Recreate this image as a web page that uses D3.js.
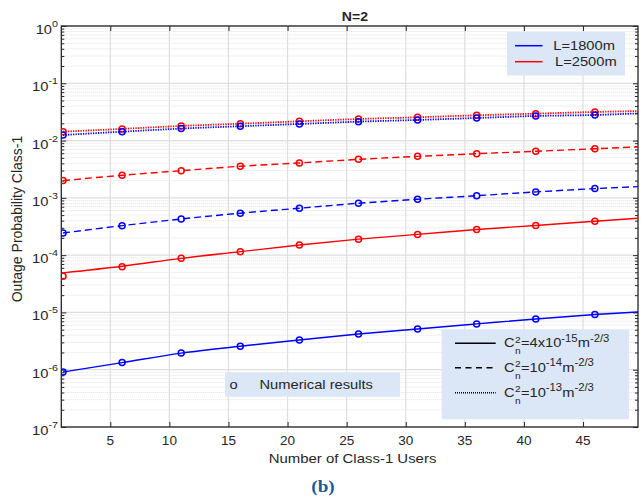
<!DOCTYPE html>
<html>
<head>
<meta charset="utf-8">
<script src="https://cdn.jsdelivr.net/npm/d3@7"></script>
<style>
  html, body { margin: 0; padding: 0; background: #ffffff; }
  svg { display: block; }
  text { font-family: "Liberation Sans", Arial, Helvetica, sans-serif; fill: #262626; }
</style>
</head>
<body>
<div id="chart"></div>
<script>
// ---------------- DATA ----------------
const xAnalytic  = [1, 6, 11, 16, 21, 26, 31, 36, 41, 46, 50];
const xNumerical = [1, 6, 11, 16, 21, 26, 31, 36, 41, 46];

// Analytical curves (lines)
const L1800_C4e15  = [9.1e-7, 1.33e-6, 1.95e-6, 2.57e-6, 3.3e-6, 4.2e-6, 5.15e-6, 6.3e-6, 7.7e-6, 9.2e-6, 1.03e-5];
const L2500_C4e15  = [4.9e-5, 6.4e-5, 8.8e-5, 1.15e-4, 1.5e-4, 1.9e-4, 2.3e-4, 2.8e-4, 3.3e-4, 3.9e-4, 4.45e-4];
const L1800_C1e14  = [2.44e-4, 3.27e-4, 4.28e-4, 5.4e-4, 6.6e-4, 8.05e-4, 9.45e-4, 1.09e-3, 1.27e-3, 1.45e-3, 1.58e-3];
const L2500_C1e14  = [2.0e-3, 2.48e-3, 2.98e-3, 3.56e-3, 4.07e-3, 4.7e-3, 5.3e-3, 5.9e-3, 6.5e-3, 7.2e-3, 7.8e-3];
const L1800_C1e13  = [1.25e-2, 1.43e-2, 1.62e-2, 1.78e-2, 1.95e-2, 2.14e-2, 2.29e-2, 2.48e-2, 2.69e-2, 2.8e-2, 3.0e-2];
const L2500_C1e13  = [1.43e-2, 1.6e-2, 1.8e-2, 1.97e-2, 2.17e-2, 2.38e-2, 2.55e-2, 2.76e-2, 2.95e-2, 3.16e-2, 3.29e-2];

// Numerical results (markers)
const num_L1800_C4e15 = [9.1e-7, 1.33e-6, 1.95e-6, 2.57e-6, 3.3e-6, 4.2e-6, 5.15e-6, 6.3e-6, 7.7e-6, 9.2e-6];
const num_L2500_C4e15 = [4.3e-5, 6.3e-5, 8.8e-5, 1.15e-4, 1.5e-4, 1.9e-4, 2.3e-4, 2.8e-4, 3.3e-4, 3.9e-4];
const num_L1800_C1e14 = [2.44e-4, 3.27e-4, 4.28e-4, 5.4e-4, 6.6e-4, 8.05e-4, 9.45e-4, 1.09e-3, 1.27e-3, 1.45e-3];
const num_L2500_C1e14 = [2.0e-3, 2.48e-3, 2.98e-3, 3.56e-3, 4.07e-3, 4.7e-3, 5.3e-3, 5.9e-3, 6.5e-3, 7.2e-3];
const num_L1800_C1e13 = [1.25e-2, 1.43e-2, 1.62e-2, 1.78e-2, 1.95e-2, 2.14e-2, 2.29e-2, 2.48e-2, 2.69e-2, 2.8e-2];
const num_L2500_C1e13 = [1.43e-2, 1.6e-2, 1.8e-2, 1.97e-2, 2.17e-2, 2.38e-2, 2.55e-2, 2.76e-2, 2.95e-2, 3.16e-2];

const xTicks = [5, 10, 15, 20, 25, 30, 35, 40, 45];
const yExponents = [0, -1, -2, -3, -4, -5, -6, -7];

const titleText = "N=2";
const xLabelText = "Number of Class-1 Users";
const yLabelText = "Outage Probability Class-1";
const captionText = "(b)";
const lLegend = ["L=1800m", "L=2500m"];
const markerLegend = "Numerical results";
// C_n^2 legend: [coefficient text, exponent]
const cLegendMain = ["=4x10", "=10", "=10"];
const cLegendExp = ["-15", "-14", "-13"];

// ---------------- LAYOUT ----------------
const W = 643, H = 496;
const plot = { left: 61.3, right: 638, top: 26, bottom: 427 };
const SX = 1.13; // horizontal text stretch of the reference
const BLUE = "#0000ff", RED = "#ff0000";
const DASH = "7,4", DOT = "1.3,1.2";

const svg = d3.select("#chart").append("svg").attr("width", W).attr("height", H);

const x = d3.scaleLinear().domain([0.855, 49.65]).range([plot.left, plot.right]);
const y = d3.scaleLog().domain([1e-7, 1]).range([plot.bottom, plot.top]);

const majorY = yExponents.map(e => Math.pow(10, e));
const minorY = [];
for (let e = -7; e < 0; e++) for (let m = 2; m <= 9; m++) minorY.push(m * Math.pow(10, e));

// helper for stretched text
function sText(parent, px, py, str, opts = {}) {
  const g = parent.append("g").attr("transform", `translate(${px},${py}) scale(${opts.sx || SX},1)`);
  const t = g.append("text")
    .attr("text-anchor", opts.anchor || "start")
    .style("font-size", (opts.size || 13) + "px")
    .style("font-weight", opts.weight || "normal")
    .text(str);
  if (opts.family) t.style("font-family", opts.family);
  if (opts.fill) t.style("fill", opts.fill);
  return t;
}

// ---------------- GRID ----------------
const grid = svg.append("g");
grid.selectAll(".minor").data(minorY).join("line")
  .attr("x1", plot.left).attr("x2", plot.right)
  .attr("y1", d => y(d)).attr("y2", d => y(d))
  .attr("stroke", "#d9d9d9").attr("stroke-width", 0.8).attr("stroke-dasharray", "1,1");
grid.selectAll(".majorY").data(majorY).join("line")
  .attr("x1", plot.left).attr("x2", plot.right)
  .attr("y1", d => y(d)).attr("y2", d => y(d))
  .attr("stroke", "#dedede").attr("stroke-width", 1.2);
grid.selectAll(".majorX").data(xTicks).join("line")
  .attr("x1", d => x(d)).attr("x2", d => x(d))
  .attr("y1", plot.top).attr("y2", plot.bottom)
  .attr("stroke", "#dedede").attr("stroke-width", 1.2);

// ---------------- AXES (inward ticks, box) ----------------
const axisColor = "#262626";
function styleAxis(g) {
  g.select(".domain").remove();
  g.selectAll("line").attr("stroke", axisColor).attr("stroke-width", 1);
  g.selectAll("text").remove();
}
svg.append("g").attr("transform", `translate(0,${plot.bottom})`)
  .call(d3.axisBottom(x).tickValues(xTicks).tickSize(-5)).call(styleAxis);
svg.append("g").attr("transform", `translate(0,${plot.top})`)
  .call(d3.axisTop(x).tickValues(xTicks).tickSize(-5)).call(styleAxis);
svg.append("g").attr("transform", `translate(${plot.left},0)`)
  .call(d3.axisLeft(y).tickValues(majorY).tickSize(-5)).call(styleAxis);
svg.append("g").attr("transform", `translate(${plot.right},0)`)
  .call(d3.axisRight(y).tickValues(majorY).tickSize(-5)).call(styleAxis);
svg.append("g").attr("transform", `translate(${plot.left},0)`)
  .call(d3.axisLeft(y).tickValues(minorY).tickSize(-3)).call(styleAxis);
svg.append("g").attr("transform", `translate(${plot.right},0)`)
  .call(d3.axisRight(y).tickValues(minorY).tickSize(-3)).call(styleAxis);

svg.append("rect")
  .attr("x", plot.left).attr("y", plot.top)
  .attr("width", plot.right - plot.left).attr("height", plot.bottom - plot.top)
  .attr("fill", "none").attr("stroke", axisColor).attr("stroke-width", 1.3);

// tick labels
xTicks.forEach(v => sText(svg, x(v), 445, String(v), { anchor: "middle", size: 12 }));
yExponents.forEach(e => {
  const t = sText(svg, 58, y(Math.pow(10, e)) + 8, "", { anchor: "end", size: 13 });
  t.append("tspan").text("10");
  t.append("tspan").attr("dy", -7).style("font-size", "9.5px").text(String(e));
});

// ---------------- SERIES ----------------
svg.append("clipPath").attr("id", "plotclip").append("rect")
  .attr("x", plot.left).attr("y", plot.top)
  .attr("width", plot.right - plot.left).attr("height", plot.bottom - plot.top);

const series = [
  { vals: L2500_C1e13, nums: num_L2500_C1e13, color: RED,  dash: DOT,  w: 1.8 },
  { vals: L1800_C1e13, nums: num_L1800_C1e13, color: BLUE, dash: DOT,  w: 1.8 },
  { vals: L2500_C1e14, nums: num_L2500_C1e14, color: RED,  dash: DASH, w: 1.4 },
  { vals: L1800_C1e14, nums: num_L1800_C1e14, color: BLUE, dash: DASH, w: 1.4 },
  { vals: L2500_C4e15, nums: num_L2500_C4e15, color: RED,  dash: null, w: 1.4 },
  { vals: L1800_C4e15, nums: num_L1800_C4e15, color: BLUE, dash: null, w: 1.4 }
];
const line = d3.line().x(d => x(d[0])).y(d => y(d[1])).curve(d3.curveMonotoneX);
const sg = svg.append("g").attr("clip-path", "url(#plotclip)");
series.forEach(s => {
  sg.append("path")
    .attr("d", line(xAnalytic.map((xv, i) => [xv, s.vals[i]])))
    .attr("fill", "none").attr("stroke", s.color).attr("stroke-width", s.w)
    .attr("stroke-dasharray", s.dash);
  sg.selectAll(null).data(xNumerical.map((xv, i) => [xv, s.nums[i]])).join("circle")
    .attr("cx", d => x(d[0])).attr("cy", d => y(d[1])).attr("r", 3)
    .attr("fill", "none").attr("stroke", s.color).attr("stroke-width", 1.5);
});

// ---------------- TEXTS ----------------
sText(svg, 355, 20.7, titleText, { anchor: "middle", size: 12.5, weight: "bold" });
sText(svg, 352.5, 463, xLabelText, { anchor: "middle", size: 13, sx: 1.15 });
svg.append("text")
  .attr("transform", `translate(21.5,219) rotate(-90)`)
  .attr("text-anchor", "middle").style("font-size", "14px").text(yLabelText);
sText(svg, 323, 492, captionText, { anchor: "middle", size: 17, weight: "bold",
  family: "'Liberation Serif', 'Times New Roman', serif", fill: "#1d5b94" });

// ---------------- LEGENDS ----------------
const LEG_BG = "#dbe7f7";
// L legend
const lg = svg.append("g");
lg.append("rect").attr("x", 507).attr("y", 32).attr("width", 118).attr("height", 43.5).attr("fill", LEG_BG);
[[BLUE, 45.7, 553.3, 50.2], [RED, 61.7, 555, 66]].forEach((r, i) => {
  lg.append("line").attr("x1", 515).attr("x2", 542.5).attr("y1", r[1]).attr("y2", r[1])
    .attr("stroke", r[0]).attr("stroke-width", 1.5);
  sText(lg, r[2], r[3], lLegend[i], { size: 13 });
});

// Numerical results legend
const ng = svg.append("g");
ng.append("rect").attr("x", 225).attr("y", 372.3).attr("width", 175).attr("height", 24.5).attr("fill", LEG_BG);
sText(ng, 229.5, 389, "o", { size: 13 });
sText(ng, 259.5, 389, markerLegend, { size: 13 });

// C_n^2 legend (separate text pieces so sub/superscripts do not collide)
const cg = svg.append("g");
cg.append("rect").attr("x", 441.7).attr("y", 329.3).attr("width", 187.3).attr("height", 90).attr("fill", LEG_BG);
const rowsY = [343.3, 367.7, 392.7];
const rowDash = [null, "6,4.5", "1,1"];
rowsY.forEach((ry, i) => {
  cg.append("line").attr("x1", 455).attr("x2", 495.7).attr("y1", ry).attr("y2", ry)
    .attr("stroke", "#000").attr("stroke-width", 1.5).attr("stroke-dasharray", rowDash[i]);
  const g = cg.append("g").attr("transform", `translate(504,${ry + 4}) scale(${SX},1)`);
  const c = g.append("text").style("font-size", "13px").text("C");
  const cw = c.node().getComputedTextLength() + 0.3;
  const sup = g.append("text").attr("x", cw).attr("y", -4.5).style("font-size", "9px").text("2");
  g.append("text").attr("x", cw).attr("y", 6.8).style("font-size", "9px").text("n");
  const sw = sup.node().getComputedTextLength() + 0.3;
  const rest = g.append("text").attr("x", cw + sw).attr("y", 0).style("font-size", "13px");
  rest.append("tspan").text(cLegendMain[i]);
  rest.append("tspan").attr("dy", -5.5).style("font-size", "10px").text(cLegendExp[i]);
  rest.append("tspan").attr("dy", 5.5).text("m");
  rest.append("tspan").attr("dy", -5.5).style("font-size", "10px").text("-2/3");
});
</script>
</body>
</html>
